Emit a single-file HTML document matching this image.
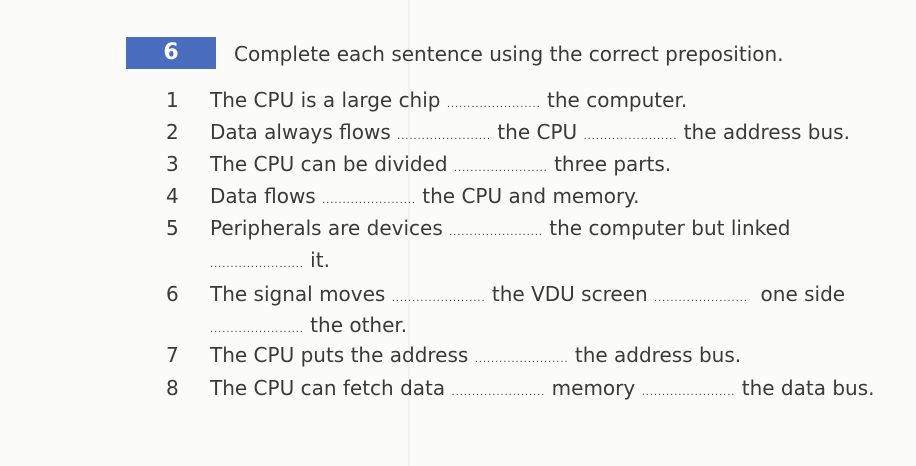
<!DOCTYPE html>
<html><head><style>
body{margin:0;width:916px;height:466px;background:#fbfbf9;position:relative;overflow:hidden;font-family:"DejaVu Sans","Liberation Sans",sans-serif;color:#3a3a3a;}
.vl{position:absolute;left:408px;top:0;width:2px;height:466px;background:#f1f1ef;}
.box{position:absolute;left:126px;top:37px;width:90px;height:32px;background:#4a6dbd;color:#fff;font-size:22px;font-weight:bold;text-align:center;line-height:32px;}
.title{position:absolute;left:234px;top:42px;font-size:20px;white-space:nowrap;}
.l{position:absolute;font-size:20px;white-space:nowrap;line-height:24px;}
.n{position:absolute;left:166px;font-size:20px;line-height:24px;}
.d{font-size:10px;letter-spacing:0.9px;}
</style></head><body>
<div class="vl"></div>
<div class="box">6</div>
<div class="title">Complete each sentence using the correct preposition.</div>
<div class="n" style="top:88px">1</div><div class="l" style="left:210px;top:88px">The CPU is a large chip <span class="d">.......................</span> the computer.</div>
<div class="n" style="top:120px">2</div><div class="l" style="left:210px;top:120px">Data always flows <span class="d">.......................</span> the CPU <span class="d">.......................</span> the address bus.</div>
<div class="n" style="top:152px">3</div><div class="l" style="left:210px;top:152px">The CPU can be divided <span class="d">.......................</span> three parts.</div>
<div class="n" style="top:184px">4</div><div class="l" style="left:210px;top:184px">Data flows <span class="d">.......................</span> the CPU and memory.</div>
<div class="n" style="top:216px">5</div><div class="l" style="left:210px;top:216px">Peripherals are devices <span class="d">.......................</span> the computer but linked</div>
<div class="l" style="left:210px;top:248px"><span class="d">.......................</span> it.</div>
<div class="n" style="top:282px">6</div><div class="l" style="left:210px;top:282px">The signal moves <span class="d">.......................</span> the VDU screen <span class="d">.......................</span>&nbsp; one side</div>
<div class="l" style="left:210px;top:313px"><span class="d">.......................</span> the other.</div>
<div class="n" style="top:343px">7</div><div class="l" style="left:210px;top:343px">The CPU puts the address <span class="d">.......................</span> the address bus.</div>
<div class="n" style="top:376px">8</div><div class="l" style="left:210px;top:376px">The CPU can fetch data <span class="d">.......................</span> memory <span class="d">.......................</span> the data bus.</div>
</body></html>
